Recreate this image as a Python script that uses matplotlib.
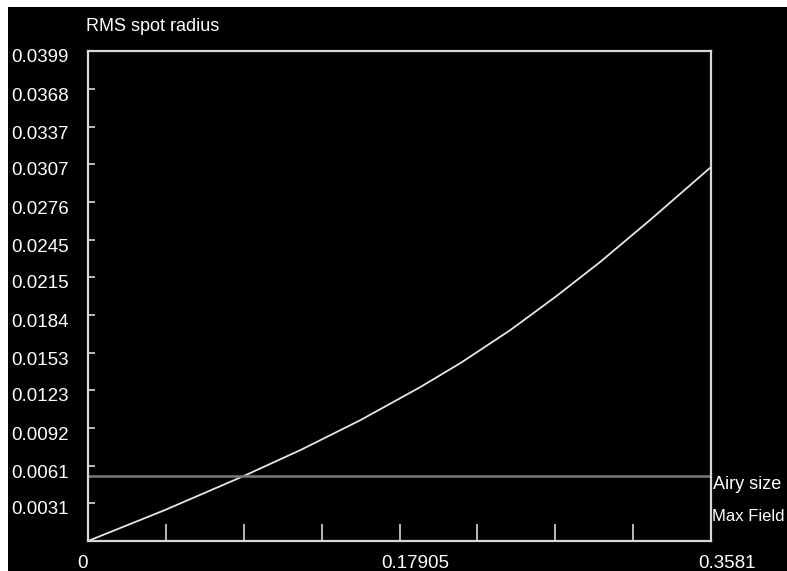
import numpy as np
import matplotlib
matplotlib.use("Agg")
import matplotlib.pyplot as plt
import matplotlib.transforms as mtransforms
from matplotlib.patches import Rectangle

# Field (x) vs RMS spot radius (y)
field = [0.0, 0.0442, 0.0895, 0.1222, 0.1567, 0.1911, 0.2141, 0.2428,
         0.2686, 0.2944, 0.3231, 0.3581]
rms_radius = [0.0, 0.00252, 0.00529, 0.00741, 0.00985, 0.01254, 0.01449,
              0.01718, 0.01987, 0.02272, 0.02614, 0.03045]

airy_size = 0.00529
max_field = 0.3581
y_max = 0.0399

y_tick_labels = ["0.0031", "0.0061", "0.0092", "0.0123", "0.0153", "0.0184",
                 "0.0215", "0.0245", "0.0276", "0.0307", "0.0337", "0.0368",
                 "0.0399"]
x_tick_labels = ["0", "0.17905", "0.3581"]

fg = "#d8d8d8"
plt.rcParams["font.family"] = ["Liberation Sans", "DejaVu Sans"]

fig = plt.figure(figsize=(7.87, 5.71), dpi=100, facecolor="white")
# black panel with a thin white margin at left and top
fig.patches.append(Rectangle((8 / 787, 0), 1, 1 - 7 / 571, transform=fig.transFigure,
                             facecolor="black", edgecolor="none", zorder=-10))

ax = fig.add_axes([88 / 787, 1 - 541 / 571, (711 - 88) / 787, (541 - 51) / 571])
ax.set_facecolor("black")

ax.plot(field, rms_radius, color="#e6e6e6", linewidth=1.3)
ax.axhline(airy_size, color="#7a7a7a", linewidth=1.8)

ax.set_xlim(0, max_field)
ax.set_ylim(0, y_max)

for sp in ax.spines.values():
    sp.set_color(fg)
    sp.set_linewidth(1.6)

# y ticks
ax.set_yticks([float(t) for t in y_tick_labels])
ax.set_yticklabels(y_tick_labels)
ax.tick_params(axis="y", direction="in", length=5, width=1.2, color=fg,
               labelcolor="white", labelsize=13.5, pad=14)
for lab in ax.get_yticklabels():
    lab.set_transform(lab.get_transform() +
                      mtransforms.ScaledTranslation(0, -5 / 100, fig.dpi_scale_trans))

# x ticks: eight divisions, labels only at ends and middle
ax.set_xticks(np.linspace(0, max_field, 3))
ax.set_xticklabels(x_tick_labels)
ax.set_xticks(np.linspace(0, max_field, 9), minor=True)
ax.tick_params(axis="x", which="both", direction="in", length=12, width=1.2,
               color=fg, labelcolor="white", labelsize=13.5, pad=10)
for lab, dx in zip(ax.get_xticklabels(), [-5, 16, 16]):
    lab.set_transform(lab.get_transform() +
                      mtransforms.ScaledTranslation(dx / 100, 0, fig.dpi_scale_trans))

ax.text(-0.003, 1.049, "RMS spot radius", transform=ax.transAxes, color="white",
        fontsize=13, ha="left", va="center")
ax.text(1.003, airy_size, "Airy size", transform=ax.get_yaxis_transform(),
        color="white", fontsize=13, ha="left", va="top", clip_on=False)
ax.text(1.002, 0.049, "Max Field", transform=ax.transAxes, color="white",
        fontsize=12, ha="left", va="center", clip_on=False)

fig.savefig("out.png", dpi=100, facecolor=fig.get_facecolor())
